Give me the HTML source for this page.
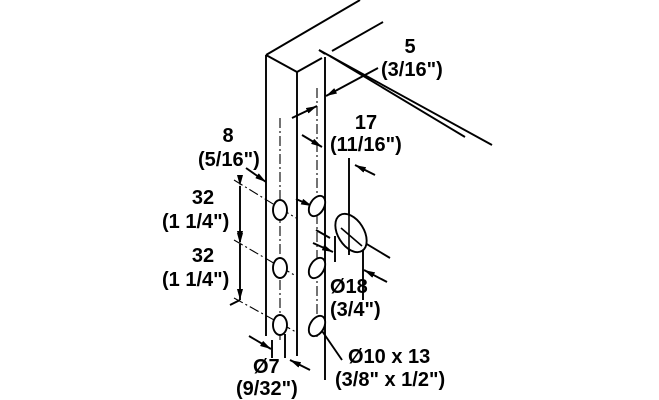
<!DOCTYPE html>
<html><head><style>
html,body{margin:0;padding:0;background:#fff;}
svg{display:block;}
text{font-family:"Liberation Sans",sans-serif;font-weight:bold;font-size:20px;fill:#000;}
</style></head><body>
<svg width="659" height="400" viewBox="0 0 659 400" xmlns="http://www.w3.org/2000/svg">
<defs>
<marker id="a" markerWidth="11" markerHeight="6" refX="11" refY="3" orient="auto" markerUnits="userSpaceOnUse"><path d="M0,0 L11,3 L0,6z" fill="#000"/></marker>
</defs>
<g stroke="#000" stroke-width="1.9" fill="none">
<line x1="266" y1="55" x2="360" y2="0"/>
<line x1="266" y1="55" x2="297" y2="72"/>
<line x1="297" y1="72" x2="322" y2="58"/>
<line x1="266" y1="55" x2="266" y2="336"/>
<line x1="297" y1="72" x2="297" y2="356"/>
<line x1="325" y1="57" x2="325" y2="380"/>
<line x1="319" y1="50" x2="325" y2="54"/>
<line x1="319" y1="50" x2="492" y2="145"/>
<line x1="330" y1="56" x2="465" y2="137"/>
<line x1="332" y1="51" x2="383" y2="22"/>
<line x1="349" y1="158" x2="349" y2="255"/>
<line x1="335" y1="236" x2="335" y2="262"/>
<line x1="363" y1="247" x2="363" y2="300"/>
<line x1="340" y1="228" x2="390" y2="258"/>
<line x1="240" y1="186" x2="240" y2="242" marker-start="url(#a)" marker-end="url(#a)"/>
<line x1="240" y1="244" x2="240" y2="300" marker-start="url(#a)" marker-end="url(#a)"/>
<line x1="230" y1="305" x2="240" y2="300"/>
<line x1="246" y1="168" x2="266" y2="182" marker-end="url(#a)"/>
<line x1="292" y1="118" x2="317" y2="106" marker-end="url(#a)"/>
<line x1="302" y1="135" x2="322" y2="147" marker-end="url(#a)"/>
<line x1="375" y1="175" x2="355" y2="165" marker-end="url(#a)"/>
<line x1="378" y1="68" x2="326" y2="96" marker-end="url(#a)"/>
<line x1="249" y1="336" x2="271" y2="349" marker-end="url(#a)"/>
<line x1="272" y1="340" x2="272" y2="358"/>
<line x1="285" y1="334" x2="285" y2="358"/>
<line x1="310" y1="370" x2="290" y2="360" marker-end="url(#a)"/>
<line x1="387" y1="282" x2="364" y2="270" marker-end="url(#a)"/>
<line x1="313" y1="243" x2="333" y2="252" marker-end="url(#a)"/>
<line x1="316" y1="230" x2="330" y2="238"/>
<line x1="320" y1="328" x2="342" y2="360"/>
<line x1="296" y1="199" x2="312" y2="206" marker-end="url(#a)"/>
</g>
<g stroke="#000" stroke-width="1.1" fill="none" stroke-dasharray="10,3,2,3">
<line x1="280" y1="118" x2="280" y2="340"/>
<line x1="317" y1="88" x2="317" y2="340"/>
<line x1="234" y1="180" x2="296" y2="218"/>
<line x1="234" y1="240" x2="296" y2="276"/>
<line x1="234" y1="298" x2="296" y2="332"/>
</g>
<g stroke="#000" stroke-width="1.9" fill="#fff">
<ellipse cx="280" cy="210" rx="7" ry="10"/>
<ellipse cx="280" cy="268" rx="7" ry="10"/>
<ellipse cx="280" cy="325" rx="7" ry="10"/>
<ellipse cx="317" cy="206" rx="7" ry="11" transform="rotate(30 317 206)"/>
<ellipse cx="317" cy="268" rx="7" ry="11" transform="rotate(30 317 268)"/>
<ellipse cx="317" cy="326" rx="7" ry="11" transform="rotate(30 317 326)"/>
<ellipse cx="351" cy="233" rx="13" ry="21" transform="rotate(-32 351 233)"/>
</g>
<g stroke="#000" stroke-width="1.6">
<line x1="341" y1="228" x2="362" y2="246"/>
<line x1="349" y1="215" x2="349" y2="252"/>
</g>
<text x="410" y="53" text-anchor="middle">5</text>
<text x="381" y="76">(3/16")</text>
<text x="366" y="129" text-anchor="middle">17</text>
<text x="330" y="151">(11/16")</text>
<text x="228" y="142" text-anchor="middle">8</text>
<text x="198" y="166">(5/16")</text>
<text x="203" y="204" text-anchor="middle">32</text>
<text x="162" y="228">(1 1/4")</text>
<text x="203" y="262" text-anchor="middle">32</text>
<text x="162" y="286">(1 1/4")</text>
<text x="330" y="293">Ø18</text>
<text x="330" y="316">(3/4")</text>
<text x="253" y="373">Ø7</text>
<text x="236" y="395">(9/32")</text>
<text x="348" y="363">Ø10 x 13</text>
<text x="335" y="386">(3/8" x 1/2")</text>
</svg>
</body></html>
